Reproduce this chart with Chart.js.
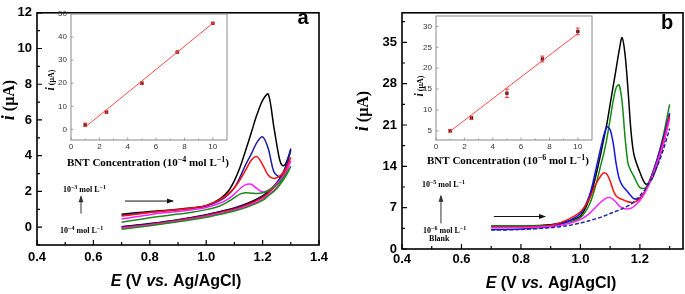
<!DOCTYPE html>
<html>
<head>
<meta charset="utf-8">
<script src="https://cdn.jsdelivr.net/npm/chart.js@4"></script>
<style>
  html, body { margin: 0; padding: 0; background: #fff; }
  #wrap { position: relative; width: 685px; height: 294px; overflow: hidden; }
  canvas { position: absolute; }
</style>
</head>
<body>
<div id="wrap">
  <canvas id="cvA" width="340" height="294" style="left:0;top:0"></canvas>
  <canvas id="cvB" width="340" height="294" style="left:345px;top:0"></canvas>
  <canvas id="insA" width="200" height="172" style="left:40px;top:0"></canvas>
  <canvas id="insB" width="195" height="172" style="left:405px;top:0"></canvas>
</div>
<script>
// ---- panel a : cyclic voltammograms (forward + reverse scan) ----
const aUpE  = [0.7, 0.75, 0.8, 0.85, 0.9, 0.95, 1.0, 1.05, 1.08, 1.1, 1.12, 1.14, 1.16, 1.18, 1.2, 1.22, 1.24, 1.26, 1.27, 1.28, 1.3];
const aUpBlack   = [0.72, 0.8, 0.87, 0.93, 1.0, 1.08, 1.2, 1.6, 2.05, 2.6, 3.35, 4.3, 5.3, 6.3, 7.1, 7.45, 5.6, 3.8, 3.45, 3.5, 4.3];
const aUpBlue    = [0.65, 0.75, 0.83, 0.9, 0.97, 1.05, 1.18, 1.5, 1.85, 2.2, 2.8, 3.5, 4.1, 4.75, 5.05, 4.4, 3.1, 2.8, 2.85, 3.05, 4.4];
const aUpRed     = [0.62, 0.72, 0.82, 0.9, 0.98, 1.07, 1.22, 1.55, 1.9, 2.2, 2.65, 3.2, 3.75, 3.95, 3.5, 2.9, 2.72, 2.85, 3.0, 3.2, 3.9];
const aUpMagenta = [0.45, 0.58, 0.7, 0.8, 0.88, 0.97, 1.1, 1.35, 1.6, 1.85, 2.15, 2.38, 2.4, 2.15, 1.97, 2.05, 2.3, 2.6, 2.8, 3.0, 3.7];
const aUpGreen   = [0.28, 0.4, 0.52, 0.63, 0.73, 0.84, 0.98, 1.2, 1.45, 1.65, 1.85, 1.92, 1.9, 1.88, 1.92, 2.05, 2.25, 2.5, 2.7, 2.9, 3.4];

const aLowE = [1.3, 1.28, 1.26, 1.24, 1.22, 1.2, 1.15, 1.1, 1.05, 1.0, 0.9, 0.8, 0.7];
const aLowBlack   = [4.3, 3.3, 2.7, 2.3, 2.0, 1.75, 1.35, 1.08, 0.88, 0.7, 0.42, 0.2, 0.02];
const aLowBlue    = [4.4, 3.3, 2.65, 2.25, 1.95, 1.7, 1.3, 1.05, 0.85, 0.67, 0.4, 0.18, 0.0];
const aLowRed     = [3.9, 3.1, 2.55, 2.2, 1.9, 1.65, 1.27, 1.0, 0.82, 0.64, 0.37, 0.15, -0.03];
const aLowMagenta = [3.7, 2.95, 2.4, 2.05, 1.8, 1.55, 1.2, 0.95, 0.76, 0.6, 0.33, 0.12, -0.06];
const aLowGreen   = [3.4, 2.8, 2.35, 2.0, 1.75, 1.5, 1.15, 0.9, 0.72, 0.55, 0.3, 0.08, -0.12];

const aXTicks = [0.4, 0.6, 0.8, 1.0, 1.2, 1.4];
const aYTicks = [0, 2, 4, 6, 8, 10, 12];

// ---- panel b : DPV curves ----
const bE = [0.7, 0.8, 0.9, 0.95, 1.0, 1.03, 1.05, 1.07, 1.08, 1.09, 1.1, 1.11, 1.12, 1.13, 1.14, 1.15, 1.16, 1.17, 1.18, 1.2, 1.22, 1.24, 1.26, 1.28, 1.3];
const bBlack   = [3.9, 3.9, 4.1, 4.6, 5.6, 8.5, 12, 16.5, 19, 21.5, 24.5, 27.5, 30.5, 33.5, 35.8, 33, 27, 20, 16, 13, 11, 11.8, 14.5, 18, 22.8];
const bGreen   = [3.9, 3.9, 4.0, 4.4, 5.3, 7.5, 10.5, 14.5, 16.5, 19, 22, 25, 27.3, 27.8, 25, 19, 14.5, 13.2, 12.3, 10.4, 10.4, 12.5, 15.5, 19.5, 24.5];
const bBlue    = [3.3, 3.4, 3.8, 4.5, 6.0, 9, 13, 17.5, 19.5, 20.7, 20.2, 18, 14.5, 12, 10.8, 10.2, 9.6, 9, 8.5, 8.6, 10, 12.5, 15.5, 19, 23];
const bRed     = [3.7, 3.7, 4.0, 4.8, 6.3, 8.5, 10.8, 12.5, 12.9, 12.6, 11.5, 10, 9, 8.6, 8.4, 8.2, 8.0, 7.9, 7.9, 8.5, 10, 12.3, 15, 18.5, 22.5];
const bMagenta = [3.6, 3.6, 3.8, 4.2, 5.0, 6.0, 7.0, 8.0, 8.4, 8.7, 8.7, 8.4, 7.9, 7.3, 7.0, 6.8, 6.8, 6.9, 7.2, 8.2, 9.8, 12, 14.8, 18, 22];
const bBlank   = [3.2, 3.3, 3.6, 3.9, 4.4, 4.8, 5.1, 5.4, 5.6, 5.8, 6.0, 6.2, 6.4, 6.6, 6.8, 7.0, 7.3, 7.6, 8.0, 9.0, 10.3, 12, 14.2, 17, 20.4];

const bXTicks = [0.4, 0.6, 0.8, 1.0, 1.2];
const bYTicks = [0, 7, 14, 21, 28, 35];

// ---- insets : calibration plots ----
const concA = [1, 2.5, 5, 7.5, 10];
const currA = [2, 7.5, 20, 33.5, 46];
const errA  = [0.7, 0.4, 0.5, 0.3, 0.3];
const fitXA = [1, 10];
const fitYA = [1, 46];

const concB = [1, 2.5, 5, 7.5, 10];
const currB = [5, 8.1, 14, 22.2, 28.8];
const errB  = [0.3, 0.4, 1.0, 0.7, 0.8];
const fitXB = [1, 10];
const fitYB = [4.9, 28.3];

const insXTicks  = [0, 2, 4, 6, 8, 10];
const insAYTicks = [0, 10, 20, 30, 40, 50];
const insBYTicks = [5, 10, 15, 20, 25, 30];

const FS = "'Liberation Sans', Arial, sans-serif";
const SERIF = "'Liberation Serif', 'Times New Roman', serif";

function pts(xs, ys) {
  return xs.map((x, i) => ({ x: x, y: ys[i] }));
}
function loop(up, low) {
  return pts(aUpE, up).concat(pts(aLowE, low));
}
function line(data, color, dash) {
  return {
    data: data, borderColor: color, borderWidth: 1.5, showLine: true,
    pointRadius: 0, tension: 0.3, fill: false, borderDash: dash || []
  };
}

// text in several fonts on one baseline
function rich(ctx, parts, x, y, align, rot) {
  ctx.save();
  ctx.translate(x, y);
  if (rot) ctx.rotate(rot);
  let w = 0;
  parts.forEach(p => { ctx.font = p.f; w += ctx.measureText(p.t).width; });
  let cx = align === 'center' ? -w / 2 : (align === 'right' ? -w : 0);
  ctx.textAlign = 'left';
  ctx.textBaseline = 'alphabetic';
  parts.forEach(p => {
    ctx.font = p.f;
    ctx.fillStyle = p.c || '#000';
    ctx.fillText(p.t, cx, p.dy || 0);
    cx += ctx.measureText(p.t).width;
  });
  ctx.restore();
}

function arrow(ctx, x1, y1, x2, y2, color) {
  const ang = Math.atan2(y2 - y1, x2 - x1);
  ctx.save();
  ctx.strokeStyle = color; ctx.fillStyle = color; ctx.lineWidth = 1;
  ctx.beginPath(); ctx.moveTo(x1, y1); ctx.lineTo(x2, y2); ctx.stroke();
  ctx.translate(x2, y2); ctx.rotate(ang);
  ctx.beginPath(); ctx.moveTo(1, 0); ctx.lineTo(-6, -2.5); ctx.lineTo(-6, 2.5); ctx.closePath(); ctx.fill();
  ctx.restore();
}

// frame + inward ticks
function makeFrame(c) {
  return {
    id: 'frame',
    beforeDatasetsDraw(chart) {
      if (!c.fill) return;
      const a = chart.chartArea, ctx = chart.ctx;
      ctx.save(); ctx.fillStyle = c.fill;
      ctx.fillRect(a.left, a.top, a.right - a.left, a.bottom - a.top);
      ctx.restore();
    },
    afterDraw(chart) {
      const ctx = chart.ctx, a = chart.chartArea, sx = chart.scales.x, sy = chart.scales.y;
      ctx.save();
      ctx.strokeStyle = c.color; ctx.lineWidth = c.lw;
      ctx.strokeRect(a.left, a.top, a.right - a.left, a.bottom - a.top);
      ctx.lineWidth = c.tw;
      ctx.beginPath();
      c.xMajor.forEach(v => { const p = sx.getPixelForValue(v); ctx.moveTo(p, a.bottom); ctx.lineTo(p, a.bottom - c.maj); });
      c.xMinor.forEach(v => { const p = sx.getPixelForValue(v); ctx.moveTo(p, a.bottom); ctx.lineTo(p, a.bottom - c.min); });
      c.yMajor.forEach(v => { const p = sy.getPixelForValue(v); ctx.moveTo(a.left, p); ctx.lineTo(a.left + c.maj, p); });
      c.yMinor.forEach(v => { const p = sy.getPixelForValue(v); ctx.moveTo(a.left, p); ctx.lineTo(a.left + c.min, p); });
      ctx.stroke();
      ctx.restore();
    }
  };
}

function axisX(min, max, ticks, h, pad, font, color, fmt) {
  return {
    type: 'linear', min: min, max: max,
    grid: { display: false, drawTicks: false }, border: { display: false },
    afterBuildTicks: s => { s.ticks = ticks.map(v => ({ value: v })); },
    afterFit: s => { s.height = h; },
    ticks: { autoSkip: false, maxRotation: 0, padding: pad, color: color, font: font, callback: fmt }
  };
}
function axisY(min, max, ticks, w, pad, font, color) {
  return {
    type: 'linear', min: min, max: max,
    grid: { display: false, drawTicks: false }, border: { display: false },
    afterBuildTicks: s => { s.ticks = ticks.map(v => ({ value: v })); },
    afterFit: s => { s.width = w; },
    ticks: { autoSkip: false, padding: pad, color: color, font: font, callback: v => String(v) }
  };
}

const mainFont = { family: FS, size: 13, weight: 'bold' };
const insFont = { family: FS, size: 8 };
const noteF = `bold 8px ${SERIF}`;
const supF = `bold 6px ${SERIF}`;

function conc(exp) {
  return [{ t: '10', f: noteF }, { t: '\u2212' + exp, f: supF, dy: -3 }, { t: ' mol L', f: noteF }, { t: '\u22121', f: supF, dy: -3 }];
}

const baseOpts = {
  responsive: false, animation: false, devicePixelRatio: 1,
  events: []
};

// ---------- panel a ----------
const notesA = {
  id: 'notesA',
  afterDraw(chart) {
    const ctx = chart.ctx, sx = chart.scales.x, sy = chart.scales.y;
    const X = v => sx.getPixelForValue(v), Y = v => sy.getPixelForValue(v);
    rich(ctx, [
      { t: 'E', f: `italic bold 16px ${FS}` }, { t: ' (V ', f: `bold 16px ${FS}` },
      { t: 'vs.', f: `italic bold 16px ${FS}` }, { t: ' Ag/AgCl)', f: `bold 16px ${FS}` }
    ], 176, 286, 'center');
    rich(ctx, [{ t: 'i', f: `italic bold 18px ${SERIF}` }, { t: ' (\u03bcA)', f: `bold 16px ${SERIF}` }], 14, 100, 'center', -Math.PI / 2);
    rich(ctx, [{ t: 'a', f: `bold 20px ${FS}` }], 303, 24, 'center');
    rich(ctx, conc('3'), X(0.492), Y(2.16) + 3, 'left');
    rich(ctx, conc('4'), X(0.482), Y(-0.16) + 3, 'left');
    arrow(ctx, X(0.556), Y(0.76), X(0.556), Y(1.73), '#333');
    arrow(ctx, X(0.712), Y(1.46), X(0.882), Y(1.46), '#111');
  }
};

new Chart(document.getElementById('cvA'), {
  type: 'scatter',
  data: {
    datasets: [
      line(loop(aUpGreen, aLowGreen), '#1e8a1e'),
      line(loop(aUpMagenta, aLowMagenta), '#ff1cff'),
      line(loop(aUpRed, aLowRed), '#ff1010'),
      line(loop(aUpBlue, aLowBlue), '#1c1ca0'),
      line(loop(aUpBlack, aLowBlack), '#000000')
    ]
  },
  options: Object.assign({}, baseOpts, {
    layout: { padding: { top: 5, right: 21, left: 0, bottom: 0 } },
    plugins: { legend: { display: false }, tooltip: { enabled: false } },
    scales: {
      x: axisX(0.4, 1.4, aXTicks, 49, 5, mainFont, '#000', v => v.toFixed(1)),
      y: axisY(-1, 12, aYTicks, 37, 5, mainFont, '#000')
    }
  }),
  plugins: [makeFrame({
    color: '#000', lw: 1.6, tw: 1.2, maj: 5, min: 3,
    xMajor: aXTicks, xMinor: [0.5, 0.7, 0.9, 1.1, 1.3],
    yMajor: aYTicks, yMinor: [-1, 1, 3, 5, 7, 9, 11]
  }), notesA]
});

// ---------- panel b ----------
const notesB = {
  id: 'notesB',
  afterDraw(chart) {
    const ctx = chart.ctx, sx = chart.scales.x, sy = chart.scales.y;
    const X = v => sx.getPixelForValue(v), Y = v => sy.getPixelForValue(v);
    rich(ctx, [
      { t: 'E', f: `italic bold 16px ${FS}` }, { t: ' (V ', f: `bold 16px ${FS}` },
      { t: 'vs.', f: `italic bold 16px ${FS}` }, { t: ' Ag/AgCl)', f: `bold 16px ${FS}` }
    ], 206, 288, 'center');
    rich(ctx, [{ t: 'i', f: `italic bold 18px ${SERIF}` }, { t: ' (\u03bcA)', f: `bold 16px ${SERIF}` }], 23, 111, 'center', -Math.PI / 2);
    rich(ctx, [{ t: 'b', f: `bold 20px ${FS}` }], 322, 29, 'center');
    rich(ctx, conc('5'), X(0.467), Y(11) + 3, 'left');
    rich(ctx, conc('6'), X(0.471), Y(3.17) + 3, 'left');
    rich(ctx, [{ t: 'Blank', f: noteF }], X(0.491), Y(1.83) + 3, 'left');
    arrow(ctx, X(0.531), Y(4.33), X(0.531), Y(9), '#333');
    arrow(ctx, X(0.709), Y(5.5), X(0.881), Y(5.5), '#111');
  }
};

new Chart(document.getElementById('cvB'), {
  type: 'scatter',
  data: {
    datasets: [
      line(pts(bE, bBlank), '#1c2a9c', [4, 2]),
      line(pts(bE, bMagenta), '#ff22ff'),
      line(pts(bE, bRed), '#ff1010'),
      line(pts(bE, bBlue), '#1414e6'),
      line(pts(bE, bGreen), '#138a13'),
      line(pts(bE, bBlack), '#000000')
    ]
  },
  options: Object.assign({}, baseOpts, {
    layout: { padding: { top: 9, right: 2, left: 0, bottom: 0 } },
    plugins: { legend: { display: false }, tooltip: { enabled: false } },
    scales: {
      x: axisX(0.4, 1.345, bXTicks, 45, 3, mainFont, '#000', v => v.toFixed(1)),
      y: axisY(0, 40, bYTicks, 57, 5, mainFont, '#000')
    }
  }),
  plugins: [makeFrame({
    color: '#000', lw: 1.6, tw: 1.2, maj: 5, min: 3,
    xMajor: bXTicks, xMinor: [0.5, 0.7, 0.9, 1.1, 1.3],
    yMajor: bYTicks, yMinor: [3.5, 10.5, 17.5, 24.5, 31.5, 38.5]
  }), notesB]
});

// ---------- insets ----------
function errPlugin(xs, ys, es) {
  return {
    id: 'errbars',
    afterDatasetsDraw(chart) {
      const ctx = chart.ctx, sx = chart.scales.x, sy = chart.scales.y;
      ctx.save();
      ctx.strokeStyle = '#ff3030'; ctx.lineWidth = 1;
      ctx.beginPath();
      xs.forEach((x, i) => {
        const px = sx.getPixelForValue(x);
        const t = sy.getPixelForValue(ys[i] + es[i]), b = sy.getPixelForValue(ys[i] - es[i]);
        ctx.moveTo(px, t); ctx.lineTo(px, b);
        ctx.moveTo(px - 2, t); ctx.lineTo(px + 2, t);
        ctx.moveTo(px - 2, b); ctx.lineTo(px + 2, b);
      });
      ctx.stroke();
      ctx.restore();
    }
  };
}

function insetTitles(id, exp, ty, tx, bx, by) {
  return {
    id: id,
    afterDraw(chart) {
      const ctx = chart.ctx;
      rich(ctx, [{ t: 'i', f: `italic bold 12px ${SERIF}` }, { t: ' (\u03bcA)', f: `bold 8px ${SERIF}` }], tx, ty, 'center', -Math.PI / 2);
      rich(ctx, [
        { t: 'BNT Concentration (10', f: `bold 11px ${SERIF}` },
        { t: '\u2212' + exp, f: `bold 8px ${SERIF}`, dy: -4 },
        { t: ' mol L', f: `bold 11px ${SERIF}` },
        { t: '\u22121', f: `bold 8px ${SERIF}`, dy: -4 },
        { t: ')', f: `bold 11px ${SERIF}` }
      ], bx, by, 'center');
    }
  };
}

function inset(id, xs, ys, es, fx, fy, ymin, ymax, yTicks, pad, titles) {
  new Chart(document.getElementById(id), {
    type: 'scatter',
    data: {
      datasets: [
        { data: pts(fx, fy), showLine: true, borderColor: '#ff4a4a', borderWidth: 1, pointRadius: 0 },
        { data: pts(xs, ys), pointStyle: 'rect', pointRadius: 2.3, backgroundColor: '#111', borderColor: '#111', borderWidth: 0 }
      ]
    },
    options: Object.assign({}, baseOpts, {
      layout: { padding: pad },
      plugins: { legend: { display: false }, tooltip: { enabled: false } },
      scales: {
        x: axisX(0, 11, insXTicks, 32, 2, insFont, '#333', v => String(v)),
        y: axisY(ymin, ymax, yTicks, 31, 4, insFont, '#333')
      }
    }),
    plugins: [makeFrame({
      fill: '#ffffff', color: '#8a8a8a', lw: 1, tw: 0.8, maj: 2.5, min: 1.5,
      xMajor: insXTicks, xMinor: [1, 3, 5, 7, 9],
      yMajor: yTicks, yMinor: []
    }), errPlugin(xs, ys, es), titles]
  });
}

inset('insA', concA, currA, errA, fitXA, fitYA, -4.6, 50, insAYTicks,
  { top: 14, right: 13, left: 0, bottom: 0 }, insetTitles('titA', '4', 80, 14, 108, 166));
inset('insB', concB, currB, errB, fitXB, fitYB, 2.8, 32.5, insBYTicks,
  { top: 16, right: 8, left: 0, bottom: 0 }, insetTitles('titB', '6', 86, 18, 103, 164));
</script>
</body>
</html>
